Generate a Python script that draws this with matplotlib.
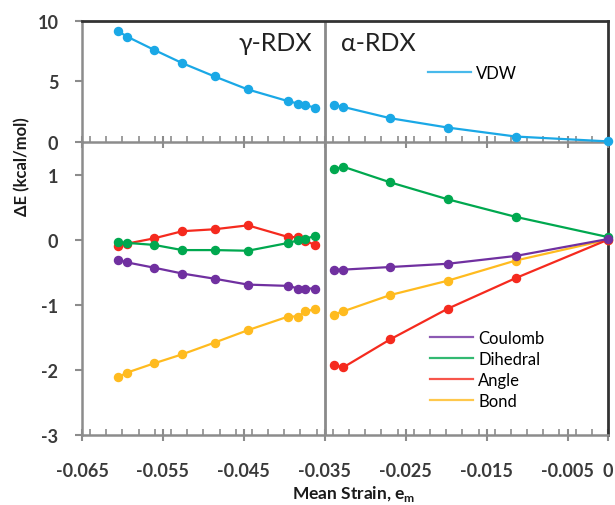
"""
Strain energy components of gamma- and alpha-RDX vs. mean strain.
Two stacked panels: VDW on top, the bonded / Coulomb terms below.
"""

import matplotlib
matplotlib.use("Agg")
import matplotlib.pyplot as plt
from matplotlib.ticker import MultipleLocator, FixedLocator

plt.rcParams["font.family"] = ["Lato", "DejaVu Sans"]
plt.rcParams["axes.unicode_minus"] = False

# --------------------------------------------------------------------------- #
# Data
# --------------------------------------------------------------------------- #
gamma_strain = [-0.0605, -0.0594, -0.0561, -0.0526, -0.0486, -0.0445,
                -0.0395, -0.0383, -0.0374, -0.0362]
alpha_strain = [-0.0339, -0.0327, -0.0269, -0.0198, -0.0114, 0.0]

gamma_vdw = [9.12, 8.68, 7.60, 6.50, 5.40, 4.33, 3.36, 3.17, 3.03, 2.84]
alpha_vdw = [3.03, 2.89, 1.96, 1.19, 0.45, 0.05]

gamma_coulomb = [-0.31, -0.35, -0.43, -0.52, -0.60, -0.69, -0.71, -0.75, -0.75, -0.75]
alpha_coulomb = [-0.46, -0.46, -0.42, -0.37, -0.25, 0.01]

gamma_dihedral = [-0.04, -0.05, -0.08, -0.16, -0.16, -0.17, -0.05, -0.01, 0.01, 0.06]
alpha_dihedral = [1.08, 1.12, 0.88, 0.62, 0.35, 0.04]

gamma_angle = [-0.09, -0.06, 0.02, 0.13, 0.16, 0.22, 0.04, 0.04, -0.02, -0.08]
alpha_angle = [-1.93, -1.96, -1.53, -1.06, -0.59, 0.0]

gamma_bond = [-2.11, -2.04, -1.90, -1.76, -1.58, -1.39, -1.18, -1.18, -1.10, -1.07]
alpha_bond = [-1.15, -1.10, -0.85, -0.63, -0.32, 0.0]

x_ticks = [-0.065, -0.055, -0.045, -0.035, -0.025, -0.015, -0.005, 0.0]
x_tick_labels = ["-0.065", "-0.055", "-0.045", "-0.035", "-0.025", "-0.015", "-0.005", "0"]

COLORS = {
    "VDW": "#1aa8e6",
    "Coulomb": "#7030a0",
    "Dihedral": "#00a84f",
    "Angle": "#f52a1e",
    "Bond": "#ffbb1f",
}
TICK_COLOR = "#3a3a3a"
SPINE_GRAY = "#8c8c8c"
SPINE_DARK = "#333333"
TICK_FS = 13


def _style_axes(ax, show_xlabels):
    ax.set_xlim(-0.065, 0.0)
    ax.xaxis.set_major_locator(FixedLocator(x_ticks))
    ax.xaxis.set_minor_locator(MultipleLocator(0.002))
    if show_xlabels:
        ax.set_xticklabels(x_tick_labels)
    else:
        ax.set_xticklabels([])
    ax.tick_params(axis="x", which="major", direction="inout", length=9, width=1.5,
                   color=SPINE_GRAY, labelcolor=TICK_COLOR, labelsize=TICK_FS, pad=15)
    ax.tick_params(axis="x", which="minor", direction="in", length=4, width=1.2,
                   color=SPINE_GRAY)
    ax.tick_params(axis="y", which="major", direction="out", length=5, width=1.5,
                   color=SPINE_GRAY, labelcolor=TICK_COLOR, labelsize=TICK_FS, pad=12)
    for lab in ax.get_xticklabels() + ax.get_yticklabels():
        lab.set_fontweight("bold")
    ax.spines["left"].set_color(SPINE_GRAY)
    ax.spines["left"].set_linewidth(1.8)
    ax.spines["bottom"].set_color(SPINE_GRAY)
    ax.spines["bottom"].set_linewidth(1.8)
    ax.spines["right"].set_color(SPINE_DARK)
    ax.spines["right"].set_linewidth(2.0)
    ax.axvline(-0.035, color="#8a8a8a", linewidth=2.0, zorder=1)


def _series(ax, x, y, name, label=None):
    ax.plot(x, y, color=COLORS[name], linewidth=1.6, marker="o", markersize=5.8,
            label=label, clip_on=False, zorder=3)


def _hide_legend_markers(leg):
    for h in leg.legend_handles:
        h.set_marker("")
        h.set_alpha(0.8)


fig = plt.figure(figsize=(6.15, 5.06), dpi=100)
ax_bot = fig.add_axes([0.1333, 0.1383, 0.8553, 0.5791])
ax_top = fig.add_axes([0.1333, 0.7174, 0.8553, 0.2397])
ax_top.patch.set_visible(False)

# --- top panel: VDW ---
_series(ax_top, gamma_strain, gamma_vdw, "VDW", label="VDW")
_series(ax_top, alpha_strain, alpha_vdw, "VDW")
ax_top.set_ylim(0, 10)
ax_top.yaxis.set_major_locator(MultipleLocator(5))
_style_axes(ax_top, show_xlabels=False)
ax_top.spines["top"].set_color(SPINE_DARK)
ax_top.spines["top"].set_linewidth(2.0)

ax_top.text(-0.0365, 8.2, "γ-RDX", ha="right", va="center", fontsize=18, color="#222222")
ax_top.text(-0.0330, 8.2, "α-RDX", ha="left", va="center", fontsize=18, color="#222222")
top_leg = ax_top.legend(loc="center left", bbox_to_anchor=(0.658, 0.57), frameon=False,
                        fontsize=12, handlelength=2.6, handletextpad=0.3, borderpad=0,
                        borderaxespad=0)
_hide_legend_markers(top_leg)

# --- bottom panel: bonded and Coulomb terms ---
for name, g, a in [("Bond", gamma_bond, alpha_bond),
                   ("Angle", gamma_angle, alpha_angle),
                   ("Dihedral", gamma_dihedral, alpha_dihedral),
                   ("Coulomb", gamma_coulomb, alpha_coulomb)]:
    _series(ax_bot, gamma_strain, g, name, label=name)
    _series(ax_bot, alpha_strain, a, name)
ax_bot.set_ylim(-3, 1.5)
ax_bot.yaxis.set_major_locator(FixedLocator([-3, -2, -1, 0, 1]))
_style_axes(ax_bot, show_xlabels=True)
ax_bot.spines["top"].set_visible(False)

handles, labels = ax_bot.get_legend_handles_labels()
order = [labels.index(n) for n in ["Coulomb", "Dihedral", "Angle", "Bond"]]
leg = ax_bot.legend([handles[i] for i in order], [labels[i] for i in order],
                    loc="center left", bbox_to_anchor=(0.6616, 0.2235), frameon=False,
                    fontsize=12, handlelength=2.6, handletextpad=0.3, borderpad=0,
                    borderaxespad=0, labelspacing=0.3)
_hide_legend_markers(leg)

fig.text(0.036, 0.67, "ΔE (kcal/mol)", rotation=90, ha="center", va="center",
         fontsize=12, fontweight="bold", color="#1a1a1a")
fig.text(0.575, 0.024, r"Mean Strain, e$_\mathregular{m}$", ha="center", va="center",
         fontsize=12.5, fontweight="bold", color="#1a1a1a")

fig.savefig("out.png", dpi=100)
